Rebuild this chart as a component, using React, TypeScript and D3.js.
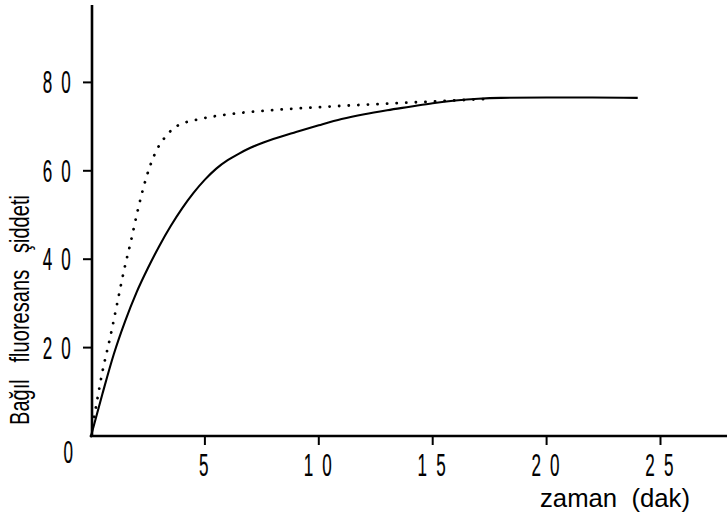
import React from "react";
import * as d3 from "d3";

const xTicks = [5, 10, 15, 20, 25];
const yTicks = [20, 40, 60, 80];

// solid curve
const solidX = [0, 0.5, 1, 1.5, 2, 2.5, 3, 3.5, 4, 4.5, 5, 5.5, 6, 6.5, 7, 8, 9, 10, 11, 12, 13, 14, 15, 16, 17, 18, 20, 22, 24];
const solidY = [0, 9.5, 18.5, 26, 32.5, 38, 43, 47.5, 51.5, 55, 58, 60.5, 62.4, 63.9, 65.2, 67.2, 68.8, 70.3, 71.7, 72.8, 73.7, 74.5, 75.3, 75.9, 76.3, 76.5, 76.6, 76.6, 76.5];

// dotted curve
const dotX = [0, 0.25, 0.5, 0.85, 1.15, 1.45, 1.75, 2.05, 2.4, 2.8, 3.25, 3.8, 4.6, 5.9, 7.9, 10, 13, 15.5, 17.5];
const dotY = [0, 7.5, 14.5, 22.5, 30, 37.5, 44, 51, 58, 63.8, 67.6, 70.2, 71.5, 72.7, 73.7, 74.4, 75.2, 75.8, 76.3];

const W = 727;
const H = 525;
const FONT = "'Liberation Sans', Arial, sans-serif";

export default function App() {
  const x = d3.scaleLinear().domain([0, 28]).range([91, 91 + 28 * 22.78]);
  const y = d3.scaleLinear().domain([0, 97]).range([436, 436 - 97 * 4.42]);

  const line = d3
    .line<[number, number]>()
    .x((d) => x(d[0]))
    .y((d) => y(d[1]))
    .curve(d3.curveMonotoneX);

  const solid = solidX.map((v, i) => [v, solidY[i]] as [number, number]);
  const dotted = dotX.map((v, i) => [v, dotY[i]] as [number, number]);

  const digitLabel = (s: string) => s.split("").join(" ");

  const digitProps = {
    fontFamily: FONT,
    fontSize: 31,
    fill: "#000",
    stroke: "#000",
    strokeWidth: 0.2,
    style: { whiteSpace: "pre" as const },
  };

  return (
    <svg
      width={W}
      height={H}
      style={{ position: "absolute", left: 0, top: 0, background: "#fff" }}
    >
      <rect x={0} y={0} width={W} height={H} fill="#fff" />
      {/* axes */}
      <line x1={x(0) + 1} y1={5} x2={x(0) + 1} y2={y(0) + 1} stroke="#000" strokeWidth={2.6} />
      <line x1={x(0)} y1={y(0)} x2={W} y2={y(0)} stroke="#000" strokeWidth={2.6} />

      {/* x ticks */}
      {xTicks.map((t) => (
        <g key={"xt" + t}>
          <line x1={x(t)} y1={y(0)} x2={x(t)} y2={y(0) + 9} stroke="#000" strokeWidth={2} />
          <g transform={`translate(${x(t)},${y(0) + 40}) scale(0.55,1)`}>
            <text textAnchor="middle" letterSpacing={4} {...digitProps}>
              {digitLabel(String(t))}
            </text>
          </g>
        </g>
      ))}

      {/* y ticks */}
      {yTicks.map((t) => (
        <g key={"yt" + t}>
          <line x1={x(0) + 1} y1={y(t)} x2={x(0) - 8} y2={y(t)} stroke="#000" strokeWidth={2} />
          <g transform={`translate(73,${y(t) + 11}) scale(0.55,1)`}>
            <text textAnchor="end" letterSpacing={4} {...digitProps}>
              {digitLabel(String(t))}
            </text>
          </g>
        </g>
      ))}
      <g transform={`translate(73,${y(0) + 27}) scale(0.55,1)`}>
        <text textAnchor="end" {...digitProps}>
          0
        </text>
      </g>

      {/* curves */}
      <path d={line(dotted) || ""} fill="none" stroke="#000" strokeWidth={2.8} strokeLinecap="round" strokeDasharray="0.1 9.5" />
      <path d={line(solid) || ""} fill="none" stroke="#000" strokeWidth={2.1} />

      {/* axis titles */}
      <text
        transform="translate(29,425) rotate(-90)"
        fontFamily={FONT}
        fontSize={27}
        fill="#000"
        textLength={230}
        lengthAdjust="spacingAndGlyphs"
        style={{ whiteSpace: "pre" }}
      >
        {"Bağıl   fluoresans   şiddeti"}
      </text>
      <text
        x={540}
        y={507}
        fontFamily={FONT}
        fontSize={25}
        fill="#000"
        textLength={150}
        lengthAdjust="spacingAndGlyphs"
        style={{ whiteSpace: "pre" }}
      >
        {"zaman  (dak)"}
      </text>
    </svg>
  );
}
